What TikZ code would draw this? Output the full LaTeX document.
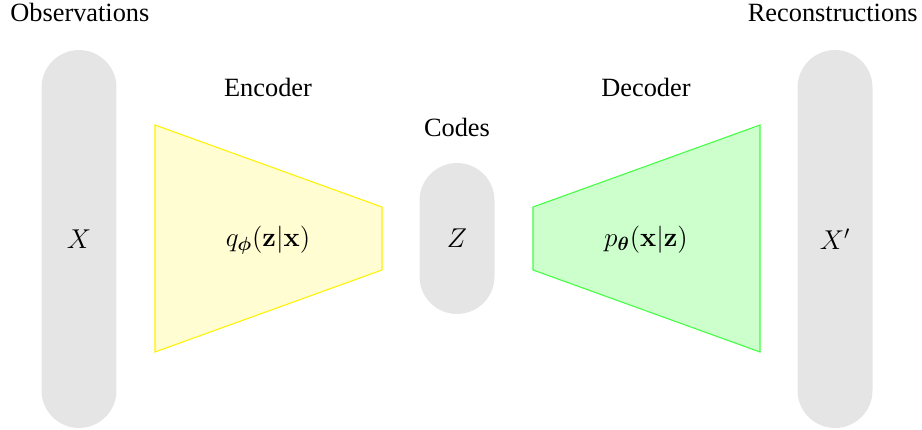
\RequirePackage{fix-cm}
\documentclass[tikz,border=0pt]{standalone}
\usepackage{amsmath}
\usepackage[no-math]{fontspec}
\setmainfont{LiberationSerif-Regular.ttf}[BoldFont=LiberationSerif-Bold.ttf]
\usetikzlibrary{positioning}

\begin{document}
\begin{tikzpicture}[x=0.02cm, y=-0.02cm, font=\fontsize{15}{18}\selectfont,
		pill/.style={fill=black!10, rounded corners=0.75cm, minimum width=1.5cm, inner sep=0pt},
		enc/.style={draw=yellow, fill=yellow!18, line width=0.6pt},
		dec/.style={draw=green!75!white, fill=green!20, line width=0.6pt},
		formula/.style={font=\fontsize{15.5}{18}\selectfont},
		titolo/.style={inner sep=0pt, anchor=base}]
		\useasboundingbox (0,0) rectangle (922,429);

		% Osservazioni e ricostruzioni
		\node[pill, formula, minimum height=7.56cm] (obs) at (79,239) {$X$};
		\node[pill, formula, minimum height=7.56cm] (rec) at (835,239) {$X'$};
		\node[pill, formula, minimum height=3.02cm] (codes) at (457,238.5) {$Z$};

		% Encoder
		\draw[enc] (155,125) -- (382,207) -- (382,270) -- (155,352) -- cycle;
		\node[formula] (qphi) at (268,240) {$q_{\boldsymbol{\phi}}(\mathbf{z}|\mathbf{x})$};

		% Decoder
		\draw[dec] (533,207) -- (760,125) -- (760,352) -- (533,270) -- cycle;
		\node[formula] (ptheta) at (646,240) {$p_{\boldsymbol{\theta}}(\mathbf{x}|\mathbf{z})$};

		% Titoli
		\node[titolo, anchor=base west] (tobs) at (10,21.5) {Observations};
		\node[titolo, anchor=base east] (trec) at (918,21.5) {Reconstructions};
		\node[titolo] (tenc) at (268,96.5) {Encoder};
		\node[titolo] (tcod) at (457,136.5) {Codes};
		\node[titolo] (tdec) at (646,96.5) {Decoder};
	\end{tikzpicture}
\end{document}
